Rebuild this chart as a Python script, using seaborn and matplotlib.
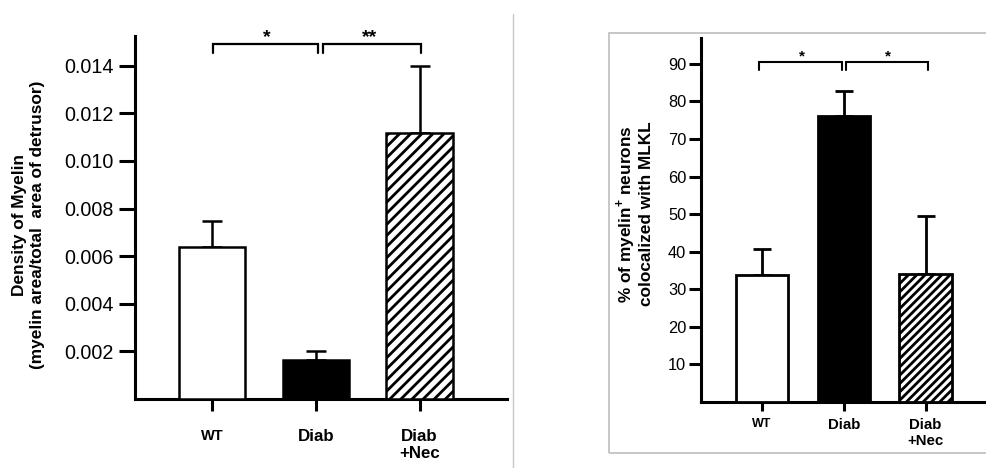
import matplotlib
matplotlib.use("Agg")
import numpy as np
import seaborn as sns
import matplotlib.pyplot as plt
from matplotlib.lines import Line2D
from matplotlib.patches import Rectangle

# Data ----------------------------------------------------------------------
groups = ["WT", "Diab", "Diab\n+Nec"]

myelin_mean = [0.00637, 0.00162, 0.01118]
myelin_err = [0.00112, 0.00038, 0.00282]

mlkl_mean = [33.8, 76.2, 34.1]
mlkl_err = [6.9, 6.7, 15.3]

# Style ---------------------------------------------------------------------
sns.set_style("ticks")
plt.rcParams["font.family"] = ["Liberation Sans", "DejaVu Sans"]
plt.rcParams["mathtext.fontset"] = "custom"
plt.rcParams["mathtext.rm"] = "Liberation Sans"
plt.rcParams["mathtext.bf"] = "Liberation Sans:bold"
plt.rcParams["hatch.linewidth"] = 2.0
plt.rcParams["hatch.color"] = "black"
for key in ["text.color", "axes.labelcolor", "xtick.color", "ytick.color",
            "axes.edgecolor"]:
    plt.rcParams[key] = "black"

W, H = 987, 468
fig = plt.figure(figsize=(W / 100, H / 100), dpi=100)

# background decorations: separator line and frame round right panel
fig.add_artist(Line2D([513 / W, 513 / W], [1 - 14 / H, 0], color="#c8c8c8", lw=1))
fig.add_artist(Rectangle((609 / W, 1 - 452.5 / H), 1.0, (452.5 - 33.3) / H,
                         transform=fig.transFigure, fill=False,
                         edgecolor="#bdbdbd", lw=1.2))


def bar_panel(ax, means, errs, hatch, edge_lw, capsize):
    colors = ["white", "black", "white"]
    sns.barplot(x=groups, y=means, hue=groups, palette=colors, legend=False,
                width=0.64, edgecolor="black", linewidth=edge_lw, ax=ax,
                zorder=3)
    ax.patches[2].set_hatch(hatch)
    ax.errorbar(x=np.arange(3), y=means, yerr=[np.zeros(3), errs], fmt="none",
                ecolor="black", elinewidth=edge_lw, capsize=capsize,
                capthick=edge_lw, zorder=2)
    sns.despine(ax=ax)
    for s in ["left", "bottom"]:
        ax.spines[s].set_linewidth(2.2)
    ax.set_xlabel("")
    ax.set_ylabel("")


def bracket(ax, x0, x1, ytop, ybot, lw):
    ax.plot([x0, x0, x1, x1], [ybot, ytop, ytop, ybot], color="black",
            lw=lw, clip_on=False, solid_joinstyle="miter")


# Left panel: myelin density -------------------------------------------------
ax1 = fig.add_axes([135 / W, 1 - 399 / H, 372 / W, 363 / H])
bar_panel(ax1, myelin_mean, myelin_err, "///", 1.8, 7.2)
ax1.set_xlim(-0.742, 2.843)
ax1.set_ylim(0, 0.01525)
ax1.set_yticks(np.arange(0.002, 0.0141, 0.002))
ax1.set_yticklabels([f"{v:.3f}" for v in np.arange(0.002, 0.0141, 0.002)])
ax1.tick_params(axis="y", length=11.5, width=2.2, pad=4, labelsize=14.2)
ax1.tick_params(axis="x", length=8.6, width=2.2, pad=13)
for lab, fs in zip(ax1.get_xticklabels(), [10.5, 12.2, 12.2]):
    lab.set_fontsize(fs)
    lab.set_fontweight("bold")
ax1.text(-0.285, 0.479, "Density of Myelin\n(myelin area/total  area of detrusor)",
         transform=ax1.transAxes, rotation=90, ha="center", va="center",
         fontsize=12.4, fontweight="bold", linespacing=1.25)
bracket(ax1, 0.007, 1.02, 0.0149, 0.01453, 1.6)
bracket(ax1, 1.07, 2.01, 0.0149, 0.01453, 1.6)
ax1.text(0.527, 0.0150, "*", ha="center", va="baseline", fontsize=14,
         fontweight="bold", clip_on=False)
ax1.text(1.523, 0.0150, "**", ha="center", va="baseline", fontsize=14,
         fontweight="bold", clip_on=False)

# Right panel: MLKL colocalisation -------------------------------------------
ax2 = fig.add_axes([701 / W, 1 - 402 / H, (W - 701) / W, (402 - 38.3) / H])
bar_panel(ax2, mlkl_mean, mlkl_err, "////", 2.0, 6.5)
ax2.set_xlim(-0.746, 2.752)
ax2.set_ylim(0, 96.8)
ax2.set_yticks(np.arange(10, 91, 10))
ax2.tick_params(axis="y", length=8.6, width=2.2, pad=2, labelsize=11.8)
ax2.tick_params(axis="x", length=6.5, width=2.2, pad=5)
for lab, fs in zip(ax2.get_xticklabels(), [9, 10.8, 10.8]):
    lab.set_fontsize(fs)
    lab.set_fontweight("bold")
ax2.text(-0.234, 0.517,
         "% of myelin$^{\\mathbf{+}}$ neurons\ncolocalized with MLKL",
         transform=ax2.transAxes, rotation=90, ha="center", va="center",
         fontsize=12.4, fontweight="bold", linespacing=1.15)
bracket(ax2, -0.033, 0.975, 90.4, 88.4, 1.5)
bracket(ax2, 1.024, 2.034, 90.4, 88.4, 1.5)
ax2.text(0.486, 90.9, "*", ha="center", va="baseline", fontsize=11,
         fontweight="bold", clip_on=False)
ax2.text(1.538, 90.9, "*", ha="center", va="baseline", fontsize=11,
         fontweight="bold", clip_on=False)

fig.savefig("out.png", dpi=100)
